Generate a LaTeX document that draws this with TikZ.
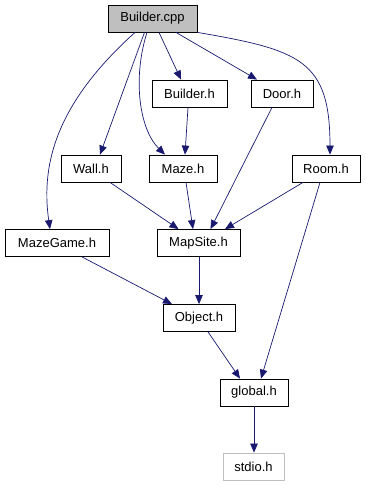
\documentclass[tikz,border=0pt]{standalone}
\usepackage{fontspec}
\setmainfont{Liberation Sans}
\usetikzlibrary{arrows.meta}
\definecolor{edgeblue}{RGB}{25,25,112}
\definecolor{boxgray}{RGB}{191,191,191}
\tikzset{
  hdr/.style={draw=black,line width=0.8pt,rectangle,minimum height=27pt,inner sep=0pt,font=\fontsize{13}{15}\selectfont},
  dep/.style={draw=edgeblue,line width=0.7pt,-{Triangle[length=9pt,width=7.5pt]}}
}
\begin{document}
\begin{tikzpicture}[x=1pt,y=-1pt]
\useasboundingbox[fill=white] (0,0) rectangle (365,485);
% files
\node[hdr,fill=boxgray,minimum width=89pt] (bcpp) at (152.5,18.5) {Builder.cpp};
\foreach \nm/\x/\y/\w/\lab in {bh/189.5/93.5/75/Builder.h,door/282/93.5/62/Door.h,
  wall/91/168.5/60/Wall.h,maze/183/168.5/68/Maze.h,room/326/168.5/68/Room.h,
  game/57/243/104/MazeGame.h,site/198.5/243/83/MapSite.h,obj/199/318/72/Object.h,
  glob/254/392.5/68/global.h}
  \node[hdr,minimum width=\w pt] (\nm) at (\x,\y) {\lab};
\node[hdr,draw=boxgray,minimum width=61pt] (stdio) at (253.5,466.5) {stdio.h};

% includes
\draw[dep] ([xshift=6.5]bcpp.south) -- ([xshift=-8.5]bh.north);
\draw[dep] ([xshift=23.5]bcpp.south) -- ([xshift=-25]door.north);
\draw[dep] (bcpp.south east) .. controls (300,50) and (330,60) .. ([xshift=4]room.north);
\draw[dep] ([xshift=-17.5]bcpp.south) .. controls (60,100) and (40,160) .. ([xshift=-7]game.north);
\draw[dep] ([xshift=-8]bcpp.south) -- ([xshift=9]wall.north);
\draw[dep] ([xshift=-5.5]bcpp.south) .. controls (132,80) and (140,130) .. ([xshift=-18]maze.north);
\foreach \a/\sa/\b/\sb in {bh/-1.5/maze/2,door/-10/site/12,wall/19/site/-20,maze/3/site/-5.5,
  room/-23/site/26.5,room/-6/glob/7,game/25/obj/-27,site/0.5/obj/0,obj/9/glob/-14,glob/0/stdio/0.5}
  \draw[dep] ([xshift=\sa]\a.south) -- ([xshift=\sb]\b.north);
\end{tikzpicture}
\end{document}
